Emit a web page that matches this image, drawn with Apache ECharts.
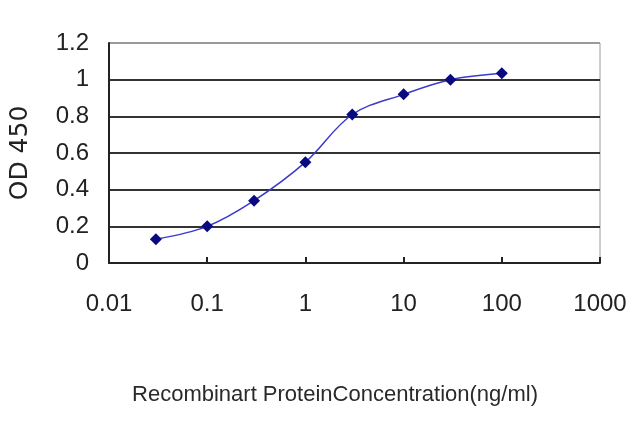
<!DOCTYPE html>
<html>
<head>
<meta charset="utf-8">
<script src="https://cdn.jsdelivr.net/npm/echarts@6/dist/echarts.min.js"></script>
<style>html,body{margin:0;padding:0;background:#fff}#c{width:640px;height:427px}</style>
</head>
<body>
<div id="c"></div>
<script>
const concentrations = [0.03, 0.1, 0.3, 1, 3, 10, 30, 100];
const od450 = [0.13, 0.20, 0.34, 0.55, 0.81, 0.92, 1.00, 1.035];
const yTicks = [0, 0.2, 0.4, 0.6, 0.8, 1, 1.2];
const xTicks = [0.01, 0.1, 1, 10, 100, 1000];

const chart = echarts.init(document.getElementById('c'));
const font = '"Liberation Sans", Arial, sans-serif';
chart.setOption({
  animation: false,
  backgroundColor: '#fff',
  grid: { left: 107, right: 40, top: 43, bottom: 164, show: true, borderColor: '#9a9a9a', borderWidth: 1 },
  xAxis: {
    type: 'log', logBase: 10, min: xTicks[0], max: xTicks[xTicks.length - 1],
    name: 'Recombinart ProteinConcentration(ng/ml)',
    nameLocation: 'middle', nameGap: 121,
    nameTextStyle: { fontFamily: font, fontSize: 22, color: '#2a2a2a', padding: [0, 39, 0, 0] },
    axisLine: { lineStyle: { color: '#222', width: 2 } },
    axisTick: { inside: true, length: 6, lineStyle: { color: '#222', width: 2 } },
    minorTick: { show: false },
    splitLine: { show: false },
    axisLabel: { fontFamily: font, fontSize: 24, color: '#222', margin: 29,
      formatter: v => { const t = xTicks.find(x => Math.abs(Math.log10(x) - Math.log10(v)) < 1e-6); return t !== undefined ? String(t) : ''; } }
  },
  yAxis: {
    type: 'value', min: yTicks[0], max: yTicks[yTicks.length - 1], interval: 0.2,
    name: 'OD 450', nameLocation: 'middle', nameGap: 76, nameRotate: 90,
    nameTextStyle: { fontFamily: '"DejaVu Sans", sans-serif', fontSize: 25, color: '#222' },
    axisLine: { show: true, lineStyle: { color: '#222', width: 2 } },
    axisTick: { show: false },
    splitLine: { show: true, lineStyle: { color: ['#333', '#333', '#333', '#333', '#333', '#333', '#9a9a9a'], width: 2 } },
    axisLabel: { fontFamily: font, fontSize: 24, color: '#222', margin: 20,
      formatter: v => String(Math.round(v * 10) / 10) }
  },
  series: [{
    type: 'line', smooth: 0.35,
    data: concentrations.map((c, i) => [c, od450[i]]),
    symbol: 'diamond', symbolSize: 12,
    itemStyle: { color: '#0a0a80' },
    lineStyle: { color: '#3a3acc', width: 1.5 }
  }]
});
</script>
</body>
</html>
